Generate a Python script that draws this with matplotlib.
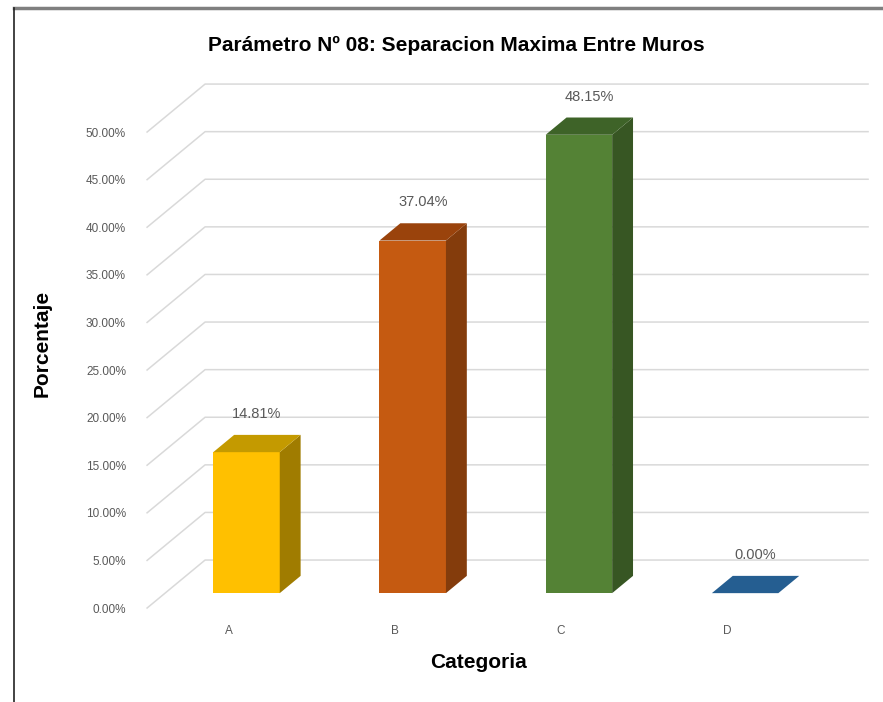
import matplotlib
matplotlib.use("Agg")
import matplotlib.pyplot as plt
from matplotlib.patches import Polygon
from matplotlib.lines import Line2D

categories = ["A", "B", "C", "D"]
values = [14.81, 37.04, 48.15, 0.00]
front_colors = ["#FFC000", "#C55A11", "#548235", "#255E91"]
top_colors = ["#C49A00", "#9A430C", "#3E6328", "#255E91"]
side_colors = ["#A07C00", "#843C0C", "#375623", "#1F4E79"]
y_ticks = [0, 5, 10, 15, 20, 25, 30, 35, 40, 45, 50]

title = "Parámetro Nº 08: Separacion Maxima Entre Muros"
arial = ["Liberation Sans", "DejaVu Sans"]

# depth of the "3d" floor in data units (category units, percent units)
DX, DY = 0.349, 5.04
d0, d1 = 0.31, 0.67   # bar front / back as fraction of floor depth
w = 0.2               # bar half width

fig = plt.figure(figsize=(8.83, 7.02), dpi=100)
W, H = 883, 702
left_px, right_px = 128.8, 876.7
top_px, bot_px = 65.4, 622.3
ax = fig.add_axes([left_px / W, 1 - bot_px / H, (right_px - left_px) / W, (bot_px - top_px) / H])
ax.set_xlim(-0.6, 3.9)
ax.set_ylim(-1.5, 57)
for s in ax.spines.values():
    s.set_visible(False)

# gridlines: diagonal on the side wall, then horizontal on back wall
gx0, gx1 = -0.49, 3.848
for v in y_ticks:
    ax.plot([gx0, gx0 + DX, gx1], [v, v + DY, v + DY], color="#d9d9d9", lw=1.1, zorder=1)

for i, v in enumerate(values):
    x0 = i - w + d0 * DX
    x1 = i + w + d0 * DX
    y0 = d0 * DY
    y1 = v + d0 * DY
    ddx = (d1 - d0) * DX
    ddy = (d1 - d0) * DY
    if v > 0:
        ax.add_patch(Polygon([(x0, y0), (x1, y0), (x1, y1), (x0, y1)],
                             closed=True, fc=front_colors[i], ec="none", zorder=3))
        ax.add_patch(Polygon([(x1, y0), (x1 + ddx, y0 + ddy), (x1 + ddx, y1 + ddy), (x1, y1)],
                             closed=True, fc=side_colors[i], ec="none", zorder=3))
    ax.add_patch(Polygon([(x0, y1), (x1, y1), (x1 + ddx, y1 + ddy), (x0 + ddx, y1 + ddy)],
                         closed=True, fc=top_colors[i], ec="none", zorder=4))
    ax.annotate(f"{v:.2f}%", xy=(i + (d0 + d1) / 2 * DX, y1 + ddy), xytext=(0, 10),
                textcoords="offset points", ha="center", va="bottom",
                fontsize=10.5, color="#595959", family=arial)

ax.set_yticks(y_ticks)
ax.set_yticklabels([f"{t:.2f}%" for t in y_ticks], fontsize=8.5, color="#595959", family=arial)
ax.set_xticks(range(len(categories)))
ax.set_xticklabels(categories, fontsize=8.5, color="#595959", family=arial)
ax.tick_params(length=0, pad=2)

ax.set_ylabel("Porcentaje", fontsize=15, fontweight="bold", family=arial)
ax.yaxis.set_label_coords(-0.103, 0.5)
ax.set_xlabel("Categoria", fontsize=15, fontweight="bold", family=arial)
ax.xaxis.set_label_coords(0.467, -0.073)
ax.xaxis.label.set_va("center")

fig.text(456 / W, 1 - 45 / H, title, ha="center", va="center",
         fontsize=15, fontweight="bold", family=arial)

# page border of the original document crop
fig.add_artist(Line2D([14 / W, 1], [1 - 8 / H, 1 - 8 / H], color="#7f7f7f", lw=2.5))
fig.add_artist(Line2D([14 / W, 14 / W], [0, 1 - 8 / H], color="#222222", lw=1.2))

fig.savefig("out.png", dpi=100)
